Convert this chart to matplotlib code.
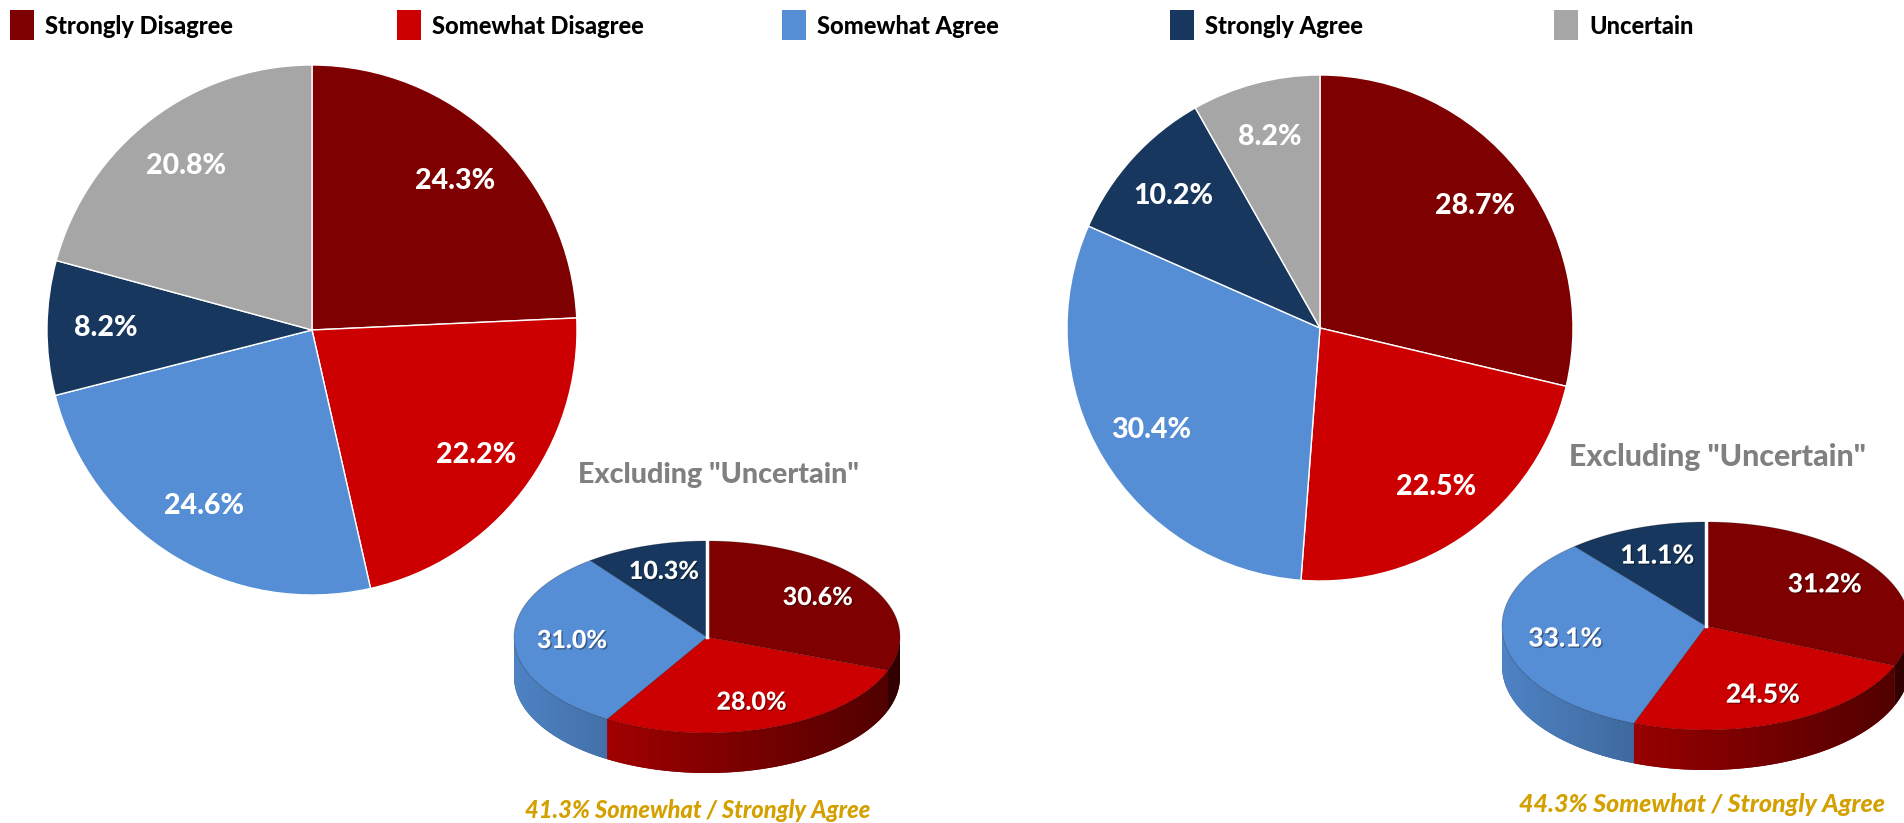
import numpy as np
import matplotlib
matplotlib.use('Agg')
import matplotlib.pyplot as plt
import matplotlib.patheffects as pe
from matplotlib.patches import Polygon, Rectangle
from matplotlib.colors import to_rgb

plt.rcParams['font.family'] = ['Lato', 'DejaVu Sans']

# data
categories = ['Strongly Disagree', 'Somewhat Disagree', 'Somewhat Agree',
              'Strongly Agree', 'Uncertain']
colours = ['#7f0000', '#cc0000', '#558ed5', '#17375e', '#a6a6a6']

left_all = [24.3, 22.2, 24.6, 8.2, 20.8]
right_all = [28.7, 22.5, 30.4, 10.2, 8.2]
left_excl = [30.6, 28.0, 31.0, 10.3]
right_excl = [31.2, 24.5, 33.1, 11.1]

excl_title = 'Excluding "Uncertain"'
captions = ['41.3% Somewhat / Strongly Agree', '44.3% Somewhat / Strongly Agree']

W, H = 1904, 823
fig = plt.figure(figsize=(W / 100, H / 100), dpi=100)
ax = fig.add_axes((0, 0, 1, 1))

shadow = [pe.withSimplePatchShadow(offset=(1, -1), shadow_rgbFace='black', alpha=0.35)]


def big_pie(values, cx, cy, r):
    _, _, autotexts = ax.pie(values, colors=colours, startangle=90, counterclock=False,
                             center=(cx, H - cy), radius=r, autopct='%1.1f%%',
                             pctdistance=0.78,
                             wedgeprops=dict(edgecolor='white', linewidth=1),
                             textprops=dict(color='white', fontsize=20.5, fontweight='black'))
    for t, v in zip(autotexts, values):
        t.set_text(f'{v:.1f}%')


def pie_3d(values, cx, cy, rx, ry, depth, fs, n=300):
    cy = H - cy
    total = sum(values)
    bounds = 90 - 360 * np.cumsum([0] + list(values)) / total
    x_lo, x_hi = cx - rx, cx + rx
    # side walls (front half only)
    for i, c in enumerate(colours[:len(values)]):
        a1, a0 = bounds[i + 1], bounds[i]
        lo, hi = max(a1, -180), min(a0, 0)
        if lo >= hi:
            continue
        th = np.radians(np.linspace(lo, hi, n))
        xs = cx + rx * np.cos(th)
        ys = cy + ry * np.sin(th)
        pts = np.concatenate([np.column_stack([xs, ys]),
                              np.column_stack([xs[::-1], ys[::-1] - depth])])
        rgb = np.array(to_rgb(c))
        patch = Polygon(pts, closed=True, facecolor=rgb * 0.6, edgecolor='none', zorder=1)
        ax.add_patch(patch)
        f = np.linspace(0.92, 0.38, 256)
        img = np.clip(f[None, :, None] * rgb[None, None, :], 0, 1)
        img = np.repeat(img, 2, axis=0)
        im = ax.imshow(img, extent=(x_lo, x_hi, cy - ry - depth, cy), aspect='auto',
                       zorder=1.5, interpolation='bilinear')
        im.set_clip_path(patch)
    # top faces
    for i, (v, c) in enumerate(zip(values, colours)):
        a1, a0 = bounds[i + 1], bounds[i]
        th = np.radians(np.linspace(a0, a1, n))
        pts = np.vstack([[cx, cy], np.column_stack([cx + rx * np.cos(th), cy + ry * np.sin(th)])])
        ax.add_patch(Polygon(pts, closed=True, facecolor=c, edgecolor='#00000040',
                             linewidth=0.6, zorder=2))
        mid = np.radians((a0 + a1) / 2)
        ax.text(cx + 0.7 * rx * np.cos(mid), cy + 0.72 * ry * np.sin(mid), f'{v:.1f}%',
                color='white', fontsize=fs, fontweight='black', ha='center', va='center',
                zorder=3, path_effects=shadow)
    ax.plot([cx, cx], [cy, cy + ry], color='white', lw=2.5, zorder=2.5)


big_pie(left_all, 312, 330, 265)
big_pie(right_all, 1320, 328, 253)

pie_3d(left_excl, 707, 637, 193, 96, 40, 18)
pie_3d(right_excl, 1706, 626, 204, 104, 40, 19)

for x, y, fs in [(719, 475, 20.6), (1717, 457, 21.8)]:
    ax.text(x, H - y, excl_title, color='#808080', fontsize=fs, fontweight='black',
            ha='center', va='center')
for (x, y, fs), cap in zip([(698, 811, 17), (1702, 805, 18)], captions):
    ax.text(x, H - y, cap, color='#d4a000', fontsize=fs, fontweight='black',
            style='italic', ha='center', va='center')

# legend
leg_x = [10, 397, 782, 1170, 1554]
for x, name, c in zip(leg_x, categories, colours):
    ax.add_patch(Rectangle((x, H - 40), 24, 30, facecolor=c, edgecolor='none'))
    ax.text(x + 35, H - 26, name, fontsize=17, fontweight='black', color='black',
            ha='left', va='center')

ax.set_xlim(0, W)
ax.set_ylim(0, H)
ax.set_aspect('auto')
ax.axis('off')

fig.savefig('out.png', dpi=100)
